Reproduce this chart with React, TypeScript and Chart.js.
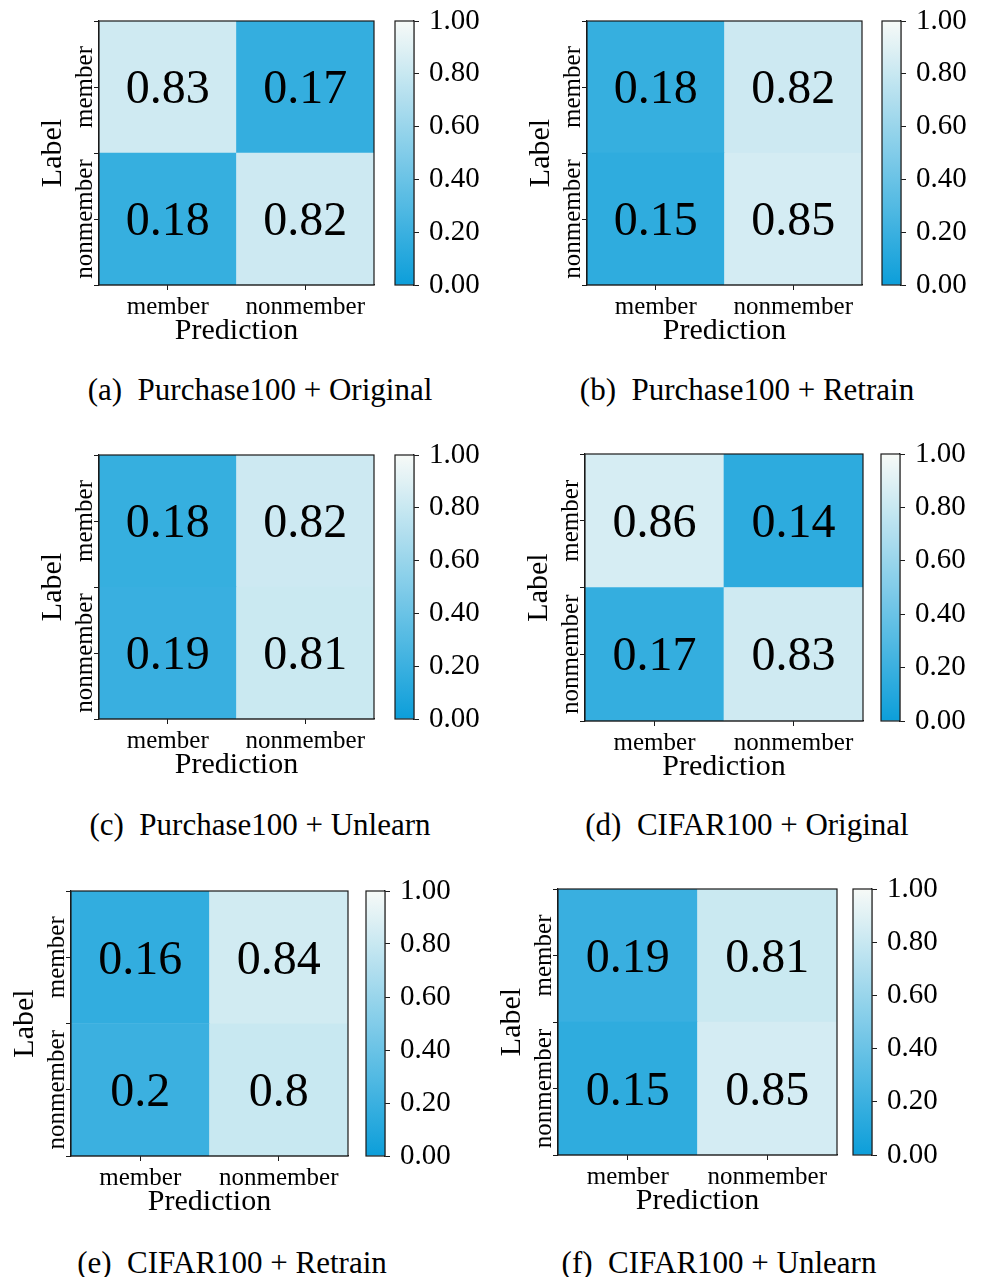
import React, { useEffect, useRef } from "react";
import { Chart, registerables } from "chart.js";

Chart.register(...registerables);

// ---------------- data ----------------
const CLASSES = ["member", "nonmember"];
const X_TITLE = "Prediction";
const Y_TITLE = "Label";

const PURCHASE_ORIGINAL = [
  [0.83, 0.17],
  [0.18, 0.82],
];
const PURCHASE_RETRAIN = [
  [0.18, 0.82],
  [0.15, 0.85],
];
const PURCHASE_UNLEARN = [
  [0.18, 0.82],
  [0.19, 0.81],
];
const CIFAR_ORIGINAL = [
  [0.86, 0.14],
  [0.17, 0.83],
];
const CIFAR_RETRAIN = [
  [0.16, 0.84],
  [0.2, 0.8],
];
const CIFAR_UNLEARN = [
  [0.19, 0.81],
  [0.15, 0.85],
];

const CAPTIONS = [
  "(a)  Purchase100 + Original",
  "(b)  Purchase100 + Retrain",
  "(c)  Purchase100 + Unlearn",
  "(d)  CIFAR100 + Original",
  "(e)  CIFAR100 + Retrain",
  "(f)  CIFAR100 + Unlearn",
];

const CBAR_TICKS = [0, 0.2, 0.4, 0.6, 0.8, 1.0];
const CBAR_RANGE = [0, 1];

const MATRICES = [
  PURCHASE_ORIGINAL,
  PURCHASE_RETRAIN,
  PURCHASE_UNLEARN,
  CIFAR_ORIGINAL,
  CIFAR_RETRAIN,
  CIFAR_UNLEARN,
];

// ---------------- layout / style ----------------
// plot box (l, r, t, b), colorbar x-range (cl, cr), caption centre x and baseline
const LAYOUT = [
  { l: 99, r: 374, t: 21, b: 285, cl: 395, cr: 414, cx: 260, cy: 400 },
  { l: 587, r: 862, t: 21, b: 285, cl: 882, cr: 901, cx: 747, cy: 400 },
  { l: 99, r: 374, t: 455, b: 719, cl: 395, cr: 414, cx: 260, cy: 835 },
  { l: 585, r: 863, t: 454, b: 721, cl: 881, cr: 900, cx: 747, cy: 835 },
  { l: 71, r: 348, t: 891, b: 1156, cl: 366, cr: 385, cx: 232, cy: 1273 },
  { l: 558, r: 837, t: 889, b: 1155, cl: 853, cr: 872, cx: 719, cy: 1273 },
];

const FONT = "'Liberation Serif', 'Times New Roman', Times, serif";
const INK = "#1a1a1a";
const C0 = [12, 158, 218];
const C1 = [247, 250, 247];

function cmap(v: number): string {
  const t = Math.max(0, Math.min(1, v));
  const c = C0.map((a, i) => Math.round(a + (C1[i] - a) * t));
  return `rgb(${c[0]},${c[1]},${c[2]})`;
}

Chart.defaults.font.family = FONT;
Chart.defaults.color = "#000";

const LEFT_W = 70;
const BOTTOM_H = 64;
const PAD_T = 12;
const PAD_R = 10;
const CELL_FONT = 48;

const heatmapPlugin = {
  id: "heatmapDecor",
  afterDraw(chart: any) {
    const { ctx, chartArea } = chart;
    const matrix: number[][] = chart.options.plugins.heatmapDecor.matrix;
    const n = matrix.length;
    ctx.save();
    // cell values
    ctx.fillStyle = "#000";
    ctx.font = `${CELL_FONT}px ${FONT}`;
    ctx.textAlign = "center";
    ctx.textBaseline = "alphabetic";
    chart.data.datasets.forEach((ds: any, d: number) => {
      const meta = chart.getDatasetMeta(d);
      meta.data.forEach((el: any, j: number) => {
        const cy = (el.y + el.base) / 2;
        ctx.fillText(String(ds.values[j]), el.x, cy + CELL_FONT * 0.34);
      });
    });
    // frame
    ctx.strokeStyle = INK;
    ctx.lineWidth = 1.2;
    ctx.strokeRect(
      chartArea.left,
      chartArea.top,
      chartArea.right - chartArea.left,
      chartArea.bottom - chartArea.top
    );
    // rotated y tick labels
    const yScale = chart.scales.y;
    ctx.font = `25px ${FONT}`;
    ctx.textAlign = "center";
    ctx.textBaseline = "alphabetic";
    CLASSES.forEach((name, i) => {
      const y = yScale.getPixelForValue(n - i - 0.5);
      ctx.save();
      ctx.translate(chartArea.left - 7.5, y);
      ctx.rotate(-Math.PI / 2);
      ctx.fillText(name, 0, 0);
      ctx.restore();
    });
    ctx.restore();
  },
};

function Heatmap({ matrix, g }: { matrix: number[][]; g: any }) {
  const ref = useRef<HTMLCanvasElement>(null);
  const w = g.r - g.l + LEFT_W + PAD_R;
  const h = g.b - g.t + PAD_T + BOTTOM_H;
  useEffect(() => {
    if (!ref.current) return;
    const n = matrix.length;
    const rows = matrix.map((row, i) => ({ row, i })).reverse();
    const chart = new Chart(ref.current, {
      type: "bar",
      data: {
        labels: CLASSES,
        datasets: rows.map(({ row, i }) => ({
          label: CLASSES[i],
          data: row.map(() => 1),
          values: row,
          backgroundColor: row.map(cmap),
          borderWidth: 0,
          barPercentage: 1,
          categoryPercentage: 1,
        })) as any,
      },
      options: {
        responsive: false,
        animation: false,
        devicePixelRatio: 1,
        layout: { padding: { top: PAD_T, right: PAD_R, left: 0, bottom: 0 } },
        plugins: {
          legend: { display: false },
          tooltip: { enabled: false },
          heatmapDecor: { matrix },
        } as any,
        scales: {
          x: {
            stacked: true,
            offset: true,
            grid: {
              offset: false,
              drawOnChartArea: false,
              drawTicks: true,
              tickLength: 5,
              color: INK,
              lineWidth: 1,
            },
            border: { display: true, color: INK, width: 1.2 },
            ticks: {
              font: { size: 25, family: FONT },
              color: "#000",
              padding: 2,
              maxRotation: 0,
              minRotation: 0,
              autoSkip: false,
            },
            title: {
              display: true,
              text: X_TITLE,
              font: { size: 30, family: FONT },
              color: "#000",
              padding: { top: 0, bottom: 0 },
            },
            afterFit: (s: any) => {
              s.height = BOTTOM_H;
            },
          },
          y: {
            stacked: true,
            min: 0,
            max: n,
            afterBuildTicks: (s: any) => {
              const t = [];
              for (let k = 0; k <= 2 * n; k++) t.push({ value: k / 2 });
              s.ticks = t;
            },
            ticks: { display: false },
            grid: {
              drawOnChartArea: false,
              drawTicks: true,
              tickLength: 5,
              color: INK,
              lineWidth: 1,
            },
            border: { display: true, color: INK, width: 1.2 },
            title: {
              display: true,
              text: Y_TITLE,
              font: { size: 30, family: FONT },
              color: "#000",
              padding: { top: 6, bottom: 0 },
            },
            afterFit: (s: any) => {
              s.width = LEFT_W;
            },
          },
        } as any,
      },
      plugins: [heatmapPlugin],
    });
    return () => chart.destroy();
  }, []);
  return (
    <canvas
      ref={ref}
      width={w}
      height={h}
      style={{
        position: "absolute",
        left: g.l - LEFT_W,
        top: g.t - PAD_T,
        width: w,
        height: h,
      }}
    />
  );
}

const CB_PAD_L = 2;
const CB_PAD_V = 32;
const CB_AXIS_W = 80;

const frameplugin = {
  id: "cbFrame",
  afterDraw(chart: any) {
    const { ctx, chartArea } = chart;
    ctx.save();
    ctx.strokeStyle = INK;
    ctx.lineWidth = 1.2;
    ctx.strokeRect(
      chartArea.left,
      chartArea.top,
      chartArea.right - chartArea.left,
      chartArea.bottom - chartArea.top
    );
    ctx.restore();
  },
};

function Colorbar({ g }: { g: any }) {
  const ref = useRef<HTMLCanvasElement>(null);
  const w = g.cr - g.cl + CB_PAD_L + CB_AXIS_W;
  const h = g.b - g.t + 2 * CB_PAD_V;
  useEffect(() => {
    if (!ref.current) return;
    const chart = new Chart(ref.current, {
      type: "bar",
      data: {
        labels: [""],
        datasets: [
          {
            data: [CBAR_RANGE] as any,
            backgroundColor: (c: any) => {
              const ch = c.chart;
              const ys = ch.scales.y;
              if (!ch.chartArea || !ys) return cmap(0.5);
              const y0 = ys.getPixelForValue(CBAR_RANGE[0]);
              const y1 = ys.getPixelForValue(CBAR_RANGE[1]);
              const grad = ch.ctx.createLinearGradient(0, y0, 0, y1);
              for (let k = 0; k <= 20; k++) {
                const v = CBAR_RANGE[0] + ((CBAR_RANGE[1] - CBAR_RANGE[0]) * k) / 20;
                grad.addColorStop(k / 20, cmap(v));
              }
              return grad;
            },
            borderWidth: 0,
            barPercentage: 1,
            categoryPercentage: 1,
          },
        ],
      },
      options: {
        responsive: false,
        animation: false,
        devicePixelRatio: 1,
        layout: {
          padding: { top: CB_PAD_V, bottom: CB_PAD_V, left: CB_PAD_L, right: 0 },
        },
        plugins: { legend: { display: false }, tooltip: { enabled: false } },
        scales: {
          x: { display: false, offset: true },
          y: {
            position: "right",
            min: CBAR_RANGE[0],
            max: CBAR_RANGE[1],
            afterBuildTicks: (s: any) => {
              s.ticks = CBAR_TICKS.map((v) => ({ value: v }));
            },
            ticks: {
              callback: (v: any) => Number(v).toFixed(2),
              font: { size: 29, family: FONT },
              color: "#000",
              padding: 10,
            },
            grid: {
              drawOnChartArea: false,
              drawTicks: true,
              tickLength: 5,
              color: INK,
              lineWidth: 1,
            },
            border: { display: true, color: INK, width: 1.2 },
            afterFit: (s: any) => {
              s.width = CB_AXIS_W;
            },
          },
        } as any,
      },
      plugins: [frameplugin],
    });
    return () => chart.destroy();
  }, []);
  return (
    <canvas
      ref={ref}
      width={w}
      height={h}
      style={{
        position: "absolute",
        left: g.cl - CB_PAD_L,
        top: g.t - CB_PAD_V,
        width: w,
        height: h,
      }}
    />
  );
}

export default function App() {
  return (
    <div
      style={{
        position: "absolute",
        left: 0,
        top: 0,
        width: 984,
        height: 1277,
        background: "#fff",
        overflow: "hidden",
      }}
    >
      {LAYOUT.map((g, k) => (
        <React.Fragment key={k}>
          <Heatmap matrix={MATRICES[k]} g={g} />
          <Colorbar g={g} />
          <div
            style={{
              position: "absolute",
              left: g.cx - 250,
              width: 500,
              top: g.cy - 26,
              height: 31,
              lineHeight: "31px",
              fontFamily: FONT,
              fontSize: 31,
              textAlign: "center",
              whiteSpace: "pre",
              color: "#000",
            }}
          >
            {CAPTIONS[k]}
          </div>
        </React.Fragment>
      ))}
    </div>
  );
}
